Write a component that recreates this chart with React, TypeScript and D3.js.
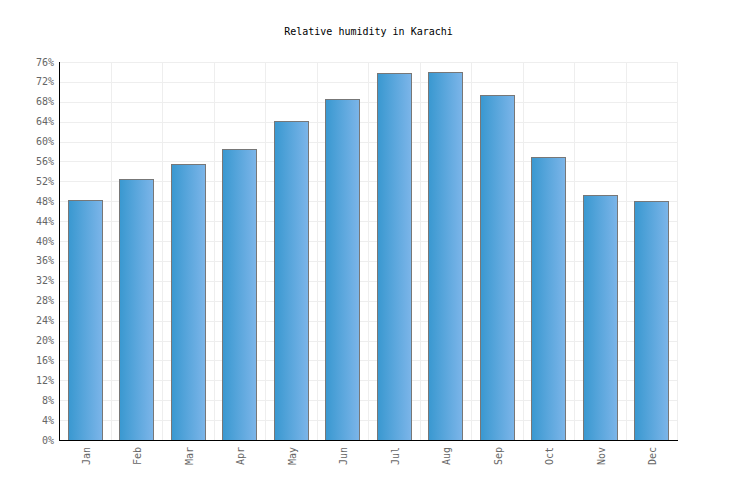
import React from "react";
import * as d3 from "d3";

const months = ["Jan", "Feb", "Mar", "Apr", "May", "Jun", "Jul", "Aug", "Sep", "Oct", "Nov", "Dec"];
const humidity = [48.2, 52.4, 55.4, 58.6, 64.1, 68.5, 73.7, 73.9, 69.3, 57.0, 49.2, 48.0];
const yTicks = d3.range(0, 77, 4);
const title = "Relative humidity in Karachi";

const W = 736, H = 500;
const M = { left: 59, right: 59, top: 62, bottom: 60 };
const FONT = "'DejaVu Sans Mono', monospace";

export default function App() {
  const x = d3.scaleBand<string>().domain(months).range([M.left, W - M.right]).paddingInner(0.34).paddingOuter(0.17);
  const y = d3.scaleLinear().domain([0, 76]).range([H - M.bottom, M.top]);
  const step = x.step();
  const bounds = d3.range(0, months.length + 1).map((i) => M.left + i * step);
  return (
    <svg width={W} height={H} style={{ position: "absolute", left: 0, top: 0, background: "#fff" }}>
      <defs>
        <linearGradient id="barGrad" x1="0" x2="1" y1="0" y2="0">
          <stop offset="0" stopColor="#3998d0" />
          <stop offset="1" stopColor="#7cb5e9" />
        </linearGradient>
      </defs>
      <text x={W / 2 + 0.5} y={35} textAnchor="middle" fontFamily={FONT} fontSize={10} fill="#000">{title}</text>
      {yTicks.map((t) => (
        <line key={"h" + t} x1={M.left} x2={W - M.right} y1={Math.round(y(t)) + 0.5} y2={Math.round(y(t)) + 0.5} stroke="#eeeeee" />
      ))}
      {bounds.map((b, i) => (
        <line key={"v" + i} x1={Math.round(b) + 0.5} x2={Math.round(b) + 0.5} y1={M.top} y2={H - M.bottom} stroke="#eeeeee" />
      ))}
      {months.map((m, i) => (
        <rect key={m} x={Math.round(x(m)!) + 0.5} y={Math.round(y(humidity[i])) + 0.5} width={Math.round(x.bandwidth())} height={Math.round(y(0)) - Math.round(y(humidity[i]))} fill="url(#barGrad)" stroke="#777" strokeWidth={1} />
      ))}
      <line x1={M.left + 0.5} x2={M.left + 0.5} y1={M.top} y2={H - M.bottom + 1} stroke="#000" />
      <line x1={M.left} x2={W - M.right + 1} y1={H - M.bottom + 0.5} y2={H - M.bottom + 0.5} stroke="#000" />
      {yTicks.map((t) => (
        <text key={"t" + t} x={54} y={y(t) + 3.5} textAnchor="end" fontFamily={FONT} fontSize={10} fill="#666">{t}%</text>
      ))}
      {months.map((m) => {
        const cx = x(m)! + x.bandwidth() / 2;
        return (
          <text key={"x" + m} transform={`translate(${cx + 5},${H - M.bottom + 7}) rotate(-90)`} textAnchor="end" fontFamily={FONT} fontSize={10} fill="#666">{m}</text>
        );
      })}
    </svg>
  );
}
